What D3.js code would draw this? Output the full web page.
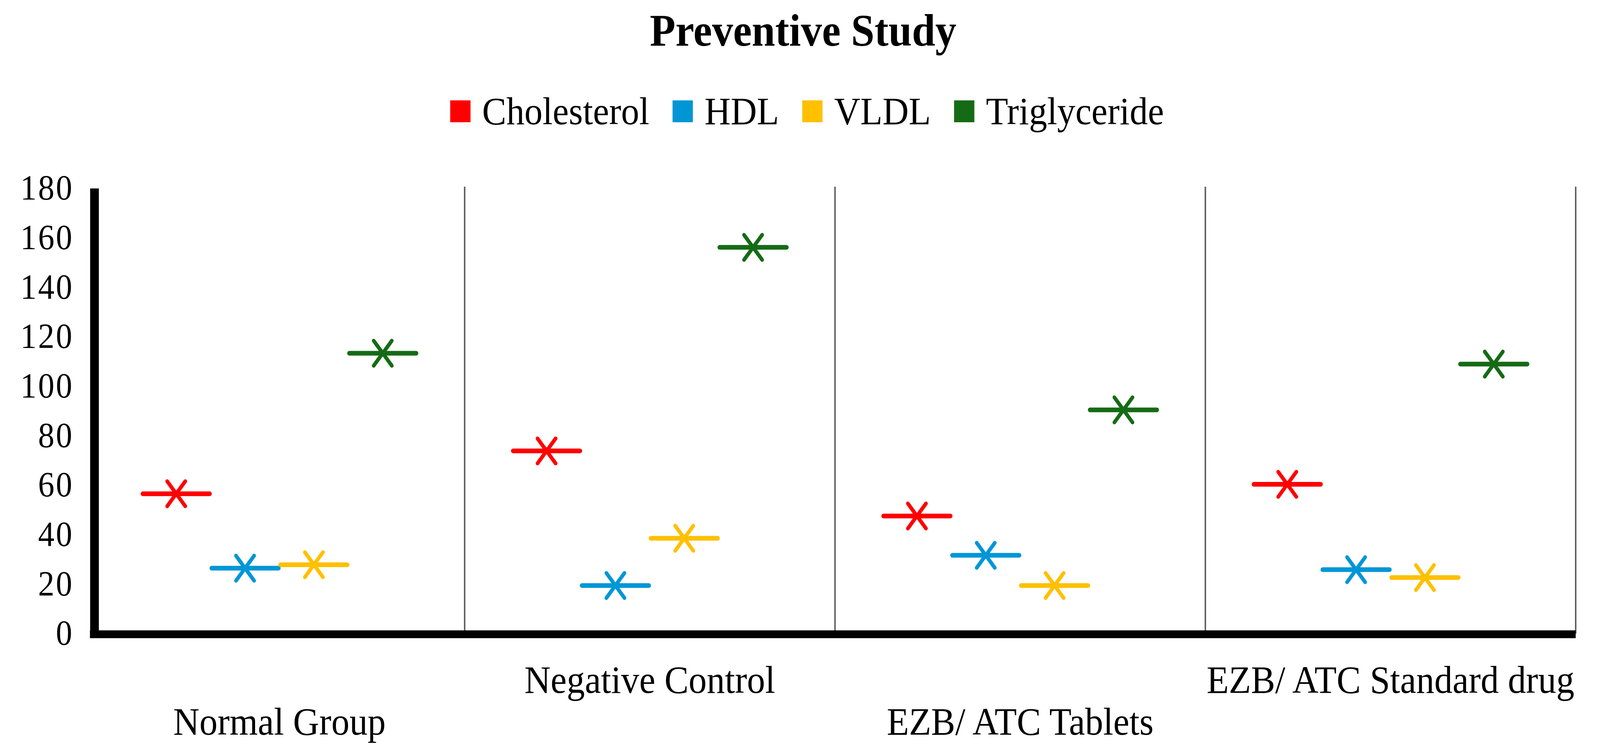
<!DOCTYPE html>
<html>
<head>
<meta charset="utf-8">
<script src="https://cdn.jsdelivr.net/npm/d3@7"></script>
<style>
  html, body { margin: 0; padding: 0; background: #fff; overflow: hidden; }
  svg { display: block; width: 100vw; height: 100vh; }
  text { font-family: "Liberation Serif", "Times New Roman", serif; fill: #000; }
</style>
</head>
<body>
<svg id="chart" viewBox="0 0 4411 1928" preserveAspectRatio="none"></svg>
<script>
const categories = ['Normal Group', 'Negative Control', 'EZB/ ATC Tablets', 'EZB/ ATC Standard drug'];
const seriesNames = ['Cholesterol', 'HDL', 'VLDL', 'Triglyceride'];
const seriesColors = ['#ff0000', '#0096d6', '#ffc000', '#156b15'];
const cholesterol = [56.5, 73.8, 47.5, 60.3];
const hdl = [26.4, 19.4, 31.6, 25.8];
const vldl = [27.8, 38.5, 19.4, 22.6];
const triglyceride = [113.3, 156.1, 90.4, 108.9];
const yTicks = [0, 20, 40, 60, 80, 100, 120, 140, 160, 180];

const values = [cholesterol, hdl, vldl, triglyceride];

const svg = d3.select('#chart');
const plot = { left: 260, right: 4344, top: 482, bottom: 1622 };

const x0 = d3.scaleBand()
  .domain(categories)
  .range([plot.left, plot.right])
  .padding(0);

const x1 = d3.scaleBand()
  .domain(seriesNames)
  .range([0, x0.bandwidth()])
  .paddingInner(0)
  .paddingOuter(0.69);

const y = d3.scaleLinear()
  .domain([0, 180])
  .range([plot.bottom, plot.top]);

const z = d3.scaleOrdinal().domain(seriesNames).range(seriesColors);

// title
svg.append('text')
  .attr('x', 2214)
  .attr('y', 117)
  .attr('text-anchor', 'middle')
  .style('font-size', '116px')
  .style('font-weight', 'bold')
  .text('Preventive Study');

// legend
const legend = svg.append('g');
let lx = 0;
seriesNames.forEach((name, i) => {
  const item = legend.append('g').attr('transform', `translate(${lx},0)`);
  item.append('rect')
    .attr('x', 0).attr('y', 257)
    .attr('width', 56).attr('height', 56)
    .attr('fill', z(name));
  const t = item.append('text')
    .attr('x', 88).attr('y', 318)
    .style('font-size', '100px')
    .text(name);
  lx += 88 + t.node().getComputedTextLength() + 64;
});
const legendWidth = lx - 64;
legend.attr('transform', `translate(${2225 - legendWidth / 2},0)`);

// category separators
svg.append('g')
  .selectAll('line')
  .data(categories)
  .enter().append('line')
  .attr('x1', d => x0(d) + x0.bandwidth())
  .attr('x2', d => x0(d) + x0.bandwidth())
  .attr('y1', y(180) - 4)
  .attr('y2', y(0))
  .attr('stroke', '#595959')
  .attr('stroke-width', 4);

// y axis
const yAxis = svg.append('g')
  .attr('transform', `translate(${plot.left},0)`)
  .call(d3.axisLeft(y).tickValues(yTicks).tickSize(0).tickPadding(57).tickSizeOuter(0));
yAxis.select('.domain')
  .attr('stroke', '#000')
  .attr('stroke-width', 24);
yAxis.selectAll('text')
  .style('font-size', '90px')
  .style('letter-spacing', '4px')
  .style('font-family', '"Liberation Serif", serif');

// x axis
const xAxis = svg.append('g')
  .attr('transform', `translate(0,${plot.bottom})`)
  .call(d3.axisBottom(x0).tickSize(0).tickSizeOuter(0));
xAxis.select('.domain').remove();
xAxis.append('line')
  .attr('x1', plot.left - 12)
  .attr('x2', plot.right)
  .attr('y1', 2).attr('y2', 2)
  .attr('stroke', '#000')
  .attr('stroke-width', 20);
xAxis.selectAll('.tick text')
  .attr('dy', 0)
  .attr('y', (d, i) => i % 2 === 0 ? 259 : 152)
  .style('font-size', '100px')
  .style('font-family', '"Liberation Serif", serif');

// markers
const points = [];
seriesNames.forEach((name, s) => {
  categories.forEach((cat, c) => {
    points.push({ series: name, cat, value: values[s][c] });
  });
});

const mark = svg.append('g')
  .selectAll('g')
  .data(points)
  .enter().append('g')
  .attr('transform', d => `translate(${x0(d.cat) + x1(d.series) + x1.bandwidth() / 2},${y(d.value)})`)
  .attr('stroke', d => z(d.series))
  .attr('stroke-linecap', 'round');

const half = x1.bandwidth() * 0.485;
mark.append('line')
  .attr('x1', -half).attr('x2', half)
  .attr('y1', 0).attr('y2', 0)
  .attr('stroke-width', 12);
mark.append('line')
  .attr('x1', -25).attr('y1', -32)
  .attr('x2', 25).attr('y2', 32)
  .attr('stroke-width', 10);
mark.append('line')
  .attr('x1', 25).attr('y1', -32)
  .attr('x2', -25).attr('y2', 32)
  .attr('stroke-width', 10);
</script>
</body>
</html>
